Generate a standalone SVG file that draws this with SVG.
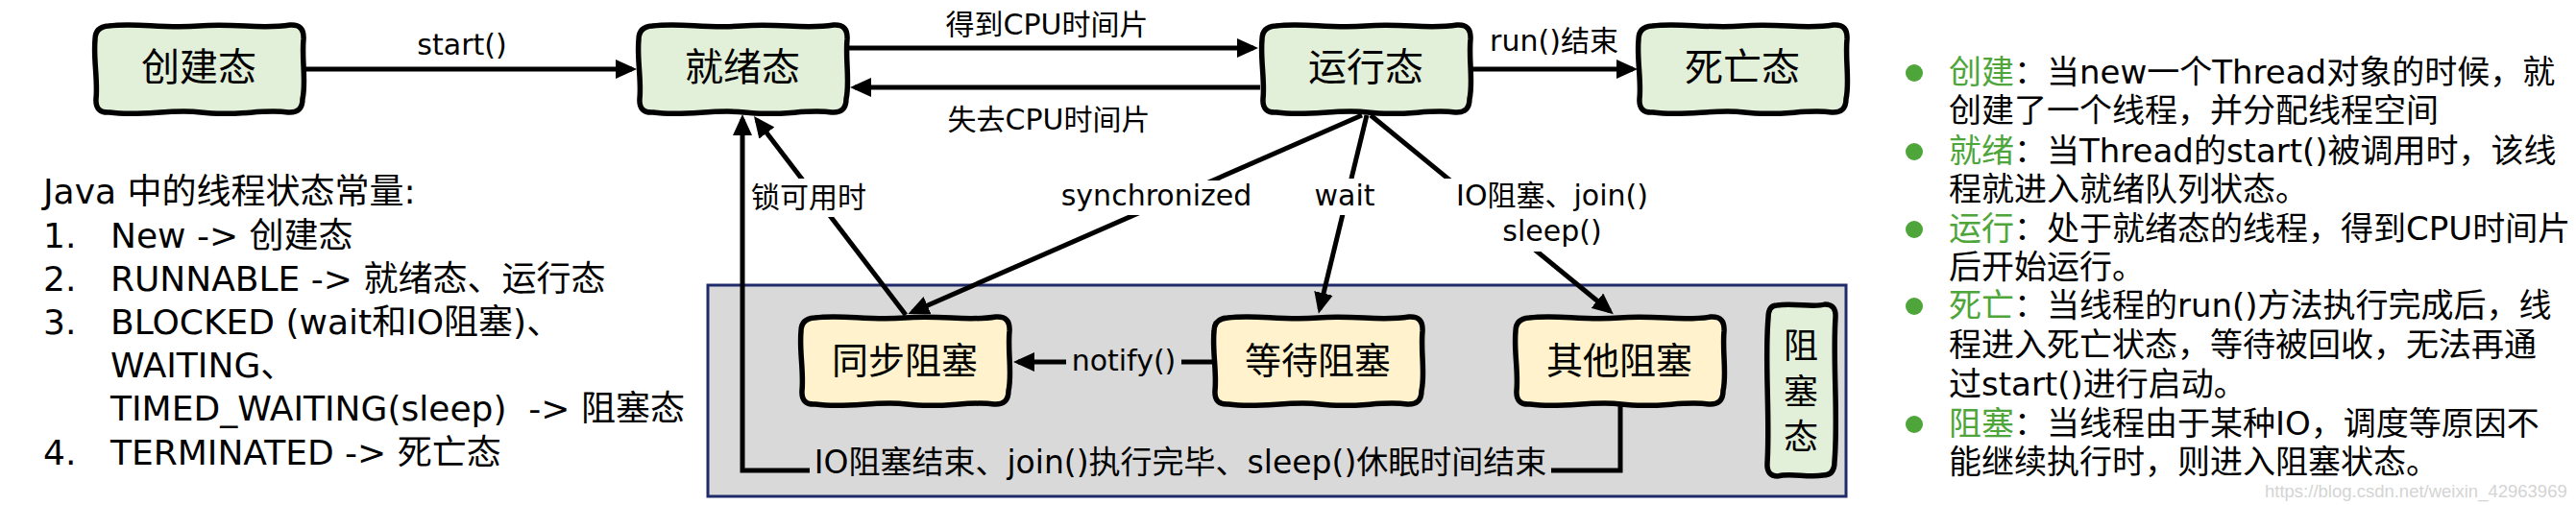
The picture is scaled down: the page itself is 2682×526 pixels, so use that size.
<svg xmlns="http://www.w3.org/2000/svg" xmlns:xlink="http://www.w3.org/1999/xlink" width="2682" height="526" viewBox="0 0 2682 526">
<style>
.t{font-family:"DejaVu Sans","Noto Sans CJK SC",sans-serif;fill:#000}
.node{font-size:40px;text-anchor:middle}
.blk{font-size:38px;text-anchor:middle}
.lbl{font-size:30px;text-anchor:middle}
.left{font-size:36px}
.right{font-size:34px}
.grn{fill:#4EA53A}
.gbox{fill:#E2EFD9}
.ybox{fill:#FFF2CC}
.conn{fill:none;stroke:#000;stroke-width:5;stroke-linejoin:miter}
.arr{marker-end:url(#ah)}
.wbg{fill:#FFFFFF}
.gbg{fill:#D9D9D9}
</style>
<defs>
<marker id="ah" markerUnits="userSpaceOnUse" markerWidth="22" markerHeight="20" viewBox="0 0 22 20" refX="17" refY="10" orient="auto"><path d="M0,0 L22,10 L0,20 Z" fill="#000"/></marker>
<path id="box" stroke="#000" stroke-width="5.5" stroke-linejoin="round" d="M16,4 C45,0 70,7 110,4 C150,1 175,8 205,3 Q220,2 219,18 C217,40 222,62 218,80 Q218,95 203,94 C175,90 150,99 112,94 C80,90 50,99 17,94 Q2,95 3,80 C5,60 0,38 2,18 Q2,5 16,4 Z"/>
<path id="vbox" stroke="#000" stroke-width="5.5" stroke-linejoin="round" d="M12,3 C30,0 50,6 62,2 Q74,2 73,16 C70,60 76,120 72,166 Q72,180 60,180 C45,183 25,177 13,181 Q1,181 2,167 C5,120 -1,60 3,16 Q3,3 12,3 Z"/>
</defs>
<rect width="2682" height="526" fill="#FFFFFF"/>

<g id="blocked-container">
<rect x="737" y="297" width="1185" height="220" fill="#D9D9D9" stroke="#1F2A6B" stroke-width="3"/>
</g>

<g id="connectors">
<path class="conn arr" d="M318,72 H658"/>
<text class="t lbl" x="481" y="57">start()</text>
<path class="conn arr" d="M883,50 H1305"/>
<text class="t lbl" x="1090" y="36">得到CPU时间片</text>
<path class="conn arr" d="M1312,91 H890"/>
<text class="t lbl" x="1092" y="135">失去CPU时间片</text>
<path class="conn arr" d="M1532,72 H1700"/>
<text class="t lbl" x="1618" y="53">run()结束</text>

<path class="conn arr" d="M1418,120 L950,325"/>
<rect class="wbg" x="1102" y="188" width="204" height="36"/>
<text class="t lbl" x="1204" y="214">synchronized</text>

<path class="conn arr" d="M1423,120 L1374,322"/>
<rect class="wbg" x="1364" y="186" width="72" height="38"/>
<text class="t lbl" x="1400" y="214">wait</text>

<path class="conn arr" d="M1427,120 L1676,324"/>
<rect class="wbg" x="1498" y="186" width="234" height="76"/>
<text class="t lbl" x="1616" y="214">IO阻塞、join()</text>
<text class="t lbl" x="1616" y="251">sleep()</text>

<path class="conn arr" d="M943,328 L788,125"/>
<rect class="wbg" x="780" y="186" width="124" height="40"/>
<text class="t lbl" x="842" y="216">锁可用时</text>

<path class="conn arr" d="M1262,377 H1060"/>
<rect class="gbg" x="1110" y="360" width="120" height="34"/>
<text class="t lbl" x="1170" y="386">notify()</text>

<path class="conn arr" d="M1687,423 V490 H773 V124"/>
<rect class="gbg" x="843" y="470" width="772" height="32"/>
<text class="t" x="1229" y="493" font-size="33" text-anchor="middle">IO阻塞结束、join()执行完毕、sleep()休眠时间结束</text>
</g>

<g id="node-create">
<use xlink:href="#box" class="gbox" transform="translate(97,23)"/>
<text class="t node" x="207" y="84">创建态</text>
</g>
<g id="node-ready">
<use xlink:href="#box" class="gbox" transform="translate(663,23)"/>
<text class="t node" x="773" y="84">就绪态</text>
</g>
<g id="node-running">
<use xlink:href="#box" class="gbox" transform="translate(1312,23)"/>
<text class="t node" x="1422" y="84">运行态</text>
</g>
<g id="node-dead">
<use xlink:href="#box" class="gbox" transform="translate(1704,23)"/>
<text class="t node" x="1814" y="84">死亡态</text>
</g>
<g id="node-sync-blocked">
<use xlink:href="#box" class="ybox" transform="translate(832,327)"/>
<text class="t blk" x="942" y="389">同步阻塞</text>
</g>
<g id="node-wait-blocked">
<use xlink:href="#box" class="ybox" transform="translate(1262,327)"/>
<text class="t blk" x="1372" y="389">等待阻塞</text>
</g>
<g id="node-other-blocked">
<use xlink:href="#box" class="ybox" transform="translate(1576,327)"/>
<text class="t blk" x="1686" y="389">其他阻塞</text>
</g>
<g id="node-blocked-state">
<use xlink:href="#vbox" class="gbox" transform="translate(1838,315)"/>
<text class="t" font-size="36" text-anchor="middle"><tspan x="1875" y="373">阻</tspan><tspan x="1875" y="421">塞</tspan><tspan x="1875" y="468">态</tspan></text>
</g>

<g id="java-states">
<text class="t left" x="45" y="212">Java 中的线程状态常量:</text>
<text class="t left" x="45" y="258">1.</text><text class="t left" x="115" y="258">New -&gt; 创建态</text>
<text class="t left" x="45" y="303">2.</text><text class="t left" x="115" y="303">RUNNABLE -&gt; 就绪态、运行态</text>
<text class="t left" x="45" y="348">3.</text><text class="t left" x="115" y="348">BLOCKED (wait和IO阻塞)、</text>
<text class="t left" x="115" y="393">WAITING、</text>
<text class="t left" x="115" y="438">TIMED_WAITING(sleep)&#160; -&gt; 阻塞态</text>
<text class="t left" x="45" y="484">4.</text><text class="t left" x="115" y="484">TERMINATED -&gt; 死亡态</text>
</g>

<g id="state-notes">
<circle cx="1993" cy="76" r="9" fill="#4EA53A"/>
<circle cx="1993" cy="158" r="9" fill="#4EA53A"/>
<circle cx="1993" cy="239" r="9" fill="#4EA53A"/>
<circle cx="1993" cy="319" r="9" fill="#4EA53A"/>
<circle cx="1993" cy="442" r="9" fill="#4EA53A"/>
<text class="t right" x="2029" y="87"><tspan class="grn">创建</tspan>：当new一个Thread对象的时候，就</text>
<text class="t right" x="2029" y="127">创建了一个线程，并分配线程空间</text>
<text class="t right" x="2029" y="169"><tspan class="grn">就绪</tspan>：当Thread的start()被调用时，该线</text>
<text class="t right" x="2029" y="209">程就进入就绪队列状态。</text>
<text class="t right" x="2029" y="250"><tspan class="grn">运行</tspan>：处于就绪态的线程，得到CPU时间片</text>
<text class="t right" x="2029" y="290">后开始运行。</text>
<text class="t right" x="2029" y="330"><tspan class="grn">死亡</tspan>：当线程的run()方法执行完成后，线</text>
<text class="t right" x="2029" y="371">程进入死亡状态，等待被回收，无法再通</text>
<text class="t right" x="2029" y="412">过start()进行启动。</text>
<text class="t right" x="2029" y="453"><tspan class="grn">阻塞</tspan>：当线程由于某种IO，调度等原因不</text>
<text class="t right" x="2029" y="493">能继续执行时，则进入阻塞状态。</text>
</g>

<text x="2358" y="518" font-family="Liberation Sans, sans-serif" font-size="18.5" fill="#D4D4D4">https://blog.csdn.net/weixin_42963969</text>
</svg>
